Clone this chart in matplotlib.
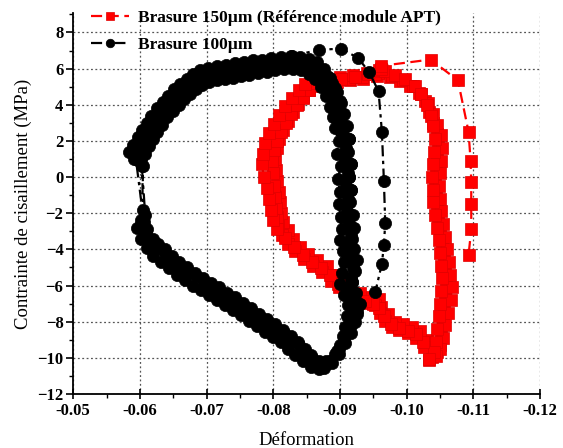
import matplotlib
matplotlib.use("Agg")
import matplotlib.pyplot as plt
from matplotlib.ticker import MultipleLocator, FormatStrFormatter

plt.rcParams['font.family'] = ['Liberation Serif', 'DejaVu Serif']
plt.rcParams['font.weight'] = 'bold'

# ---------------- data: Brasure 100 µm (black) ----------------
b100_x = [
    # cycle 1 (inner)
    -0.0885, -0.0893, -0.0900, -0.0905, -0.0908, -0.0910, -0.0912, -0.0906, -0.0900, -0.0903,
    -0.0906, -0.0904, -0.0900, -0.0903, -0.0901, -0.0898, -0.0900, -0.0897, -0.0901, -0.0895,
    -0.0898, -0.0892, -0.0890, -0.0885, -0.0879, -0.0871, -0.0863, -0.0853,
    -0.0841, -0.0829, -0.0816, -0.0803, -0.0790, -0.0777, -0.0764, -0.0752, -0.0740, -0.0728,
    -0.0715, -0.0703, -0.0693, -0.0684, -0.0675, -0.0666, -0.0658, -0.0649, -0.0641, -0.0633,
    -0.0626, -0.0620, -0.0614, -0.0608, -0.0602, -0.0598, -0.0604,
    -0.0604, -0.0602, -0.0610, -0.0619, -0.0627, -0.0637, -0.0648, -0.0659, -0.0671, -0.0683,
    -0.0695, -0.0707, -0.0719, -0.0731, -0.0743, -0.0755, -0.0767, -0.0779, -0.0791, -0.0803,
    -0.0815, -0.0826, -0.0837, -0.0847, -0.0857, -0.0868, -0.0879,
    # cycle 2
    -0.0872, -0.0888, -0.0898, -0.0908, -0.0916, -0.0922, -0.0925, -0.0920, -0.0914, -0.0916,
    -0.0920, -0.0917, -0.0913, -0.0916, -0.0914, -0.0910, -0.0912, -0.0909, -0.0912, -0.0907,
    -0.0909, -0.0904, -0.0902, -0.0898, -0.0892, -0.0884, -0.0876, -0.0866, -0.0852,
    -0.0838, -0.0825, -0.0811, -0.0798, -0.0784, -0.0771, -0.0758, -0.0746, -0.0733, -0.0720,
    -0.0707, -0.0695, -0.0685, -0.0675, -0.0666, -0.0657, -0.0648, -0.0640, -0.0631, -0.0624,
    -0.0617, -0.0610, -0.0604, -0.0597, -0.0591, -0.0603,
    -0.0608, -0.0601, -0.0609, -0.0618, -0.0627, -0.0637, -0.0648, -0.0660, -0.0672, -0.0684,
    -0.0696, -0.0708, -0.0720, -0.0732, -0.0744, -0.0756, -0.0768, -0.0780, -0.0792, -0.0804,
    -0.0816, -0.0827, -0.0838, -0.0848, -0.0858, -0.0868,
    # cycle 3 (outer)
    -0.0876, -0.0886, -0.0899, -0.0908, -0.0917, -0.0926, -0.0930, -0.0923, -0.0918, -0.0921,
    -0.0923, -0.0920, -0.0917, -0.0919, -0.0916, -0.0914, -0.0916, -0.0913, -0.0916, -0.0911,
    -0.0913, -0.0908, -0.0905, -0.0900, -0.0893, -0.0885, -0.0876, -0.0866, -0.0853,
    -0.0840, -0.0826, -0.0812, -0.0797, -0.0783, -0.0769, -0.0756, -0.0742, -0.0729, -0.0715,
    -0.0702, -0.0690, -0.0680, -0.0670, -0.0660, -0.0651, -0.0642, -0.0634, -0.0625, -0.0617,
    -0.0610, -0.0603, -0.0597, -0.0590, -0.0584, -0.0594,
    -0.0606, -0.0596, -0.0602, -0.0610, -0.0620, -0.0631, -0.0643, -0.0655, -0.0667, -0.0679,
    -0.0691, -0.0703, -0.0715, -0.0727, -0.0739, -0.0751, -0.0763, -0.0775, -0.0787, -0.0799,
    -0.0811, -0.0822, -0.0833, -0.0844, -0.0856, -0.0868,
    # cycle 4 (up the right side)
    -0.0882, -0.0896, -0.0906, -0.0915, -0.0922, -0.0928, -0.0924, -0.0918, -0.0922, -0.0925,
    -0.0921, -0.0918, -0.0921, -0.0919, -0.0915, -0.0917, -0.0914, -0.0917, -0.0912, -0.0914,
    -0.0910, -0.0906, -0.0901, -0.0895, -0.0888, -0.0880, -0.0872, -0.0860, -0.0848, -0.0835,
    # outer sparse branch
    -0.0828, -0.0869, -0.0901, -0.0927, -0.0944, -0.0958, -0.0963, -0.0966, -0.0968, -0.0966,
    -0.0963, -0.0953,
]
b100_y = [
    # cycle 1 (inner)
    -10.2, -9.8, -9.3, -8.8, -8.3, -7.7, -7.1, -6.5, -5.9, -5.3,
    -4.7, -4.1, -3.5, -2.9, -2.2, -1.5, -0.8, -0.1, 0.6, 1.3,
    2.0, 2.7, 3.3, 3.9, 4.5, 5.0, 5.4, 5.7,
    5.9, 6.0, 5.95, 5.9, 5.8, 5.75, 5.65, 5.6, 5.5, 5.45,
    5.35, 5.25, 5.1, 4.85, 4.6, 4.3, 4.0, 3.65, 3.3, 2.9,
    2.5, 2.1, 1.7, 1.3, 1.0, 0.9, 0.6,
    -1.8, -2.4, -2.9, -3.4, -3.7, -4.0, -4.35, -4.7, -5.0, -5.3,
    -5.6, -5.85, -6.1, -6.4, -6.65, -6.95, -7.25, -7.55, -7.85, -8.15,
    -8.45, -8.8, -9.15, -9.5, -9.85, -10.15, -10.2,
    # cycle 2
    -10.5, -10.3, -9.8, -9.2, -8.6, -8.0, -7.4, -6.8, -6.2, -5.6,
    -5.0, -4.4, -3.8, -3.2, -2.6, -1.9, -1.2, -0.5, 0.2, 0.9,
    1.6, 2.3, 3.0, 3.7, 4.3, 4.9, 5.4, 5.8, 6.1,
    6.3, 6.35, 6.3, 6.25, 6.15, 6.1, 6.0, 5.95, 5.85, 5.8,
    5.7, 5.5, 5.3, 5.05, 4.75, 4.45, 4.1, 3.75, 3.4, 3.0,
    2.6, 2.2, 1.8, 1.4, 1.0, 0.6,
    -2.1, -2.6, -3.0, -3.5, -3.9, -4.2, -4.55, -4.9, -5.2, -5.5,
    -5.8, -6.05, -6.3, -6.6, -6.85, -7.15, -7.45, -7.75, -8.05, -8.35,
    -8.65, -8.95, -9.3, -9.65, -10.0, -10.3,
    # cycle 3 (outer)
    -10.55, -10.2, -9.5, -8.8, -8.2, -7.6, -7.0, -6.4, -5.8, -5.2,
    -4.6, -4.0, -3.4, -2.8, -2.1, -1.4, -0.7, 0.0, 0.7, 1.4,
    2.1, 2.8, 3.5, 4.2, 4.9, 5.5, 6.0, 6.35, 6.55,
    6.65, 6.7, 6.65, 6.6, 6.5, 6.45, 6.35, 6.3, 6.2, 6.15,
    6.05, 5.9, 5.7, 5.45, 5.15, 4.85, 4.5, 4.15, 3.8, 3.4,
    3.0, 2.6, 2.2, 1.8, 1.4, 1.0,
    -2.5, -2.8, -3.4, -3.9, -4.35, -4.7, -5.05, -5.4, -5.7, -6.0,
    -6.25, -6.5, -6.8, -7.05, -7.35, -7.65, -7.95, -8.25, -8.55, -8.85,
    -9.15, -9.5, -9.85, -10.2, -10.5, -10.6,
    # cycle 4
    -10.3, -9.6, -8.9, -8.2, -7.6, -7.0, -6.4, -5.8, -5.2, -4.6,
    -4.0, -3.4, -2.8, -2.1, -1.4, -0.7, 0.0, 0.7, 1.4, 2.1,
    2.8, 3.5, 4.1, 4.7, 5.2, 5.6, 5.9, 6.2, 6.4, 6.45,
    # outer sparse branch
    6.7, 7.04, 7.1, 6.6, 5.8, 4.74, 2.5, -0.2, -2.55, -3.75,
    -4.8, -6.37,
]

# ---------------- data: Brasure 150 µm (red) ----------------
b150_x = [
    # cycle 1 (inner)
    -0.0858, -0.0875, -0.0896, -0.0915, -0.0935, -0.0955, -0.0965, -0.0975, -0.0990, -0.1005,
    -0.1018, -0.1027, -0.1033, -0.1040, -0.1045, -0.1047, -0.1046, -0.1044, -0.1043, -0.1044,
    -0.1045, -0.1047, -0.1050, -0.1053, -0.1056, -0.1058, -0.1059, -0.1058, -0.1056, -0.1054,
    -0.1052, -0.1050, -0.1046, -0.1038,
    -0.1030, -0.1020, -0.1008, -0.0995, -0.0982, -0.0972, -0.0962, -0.0958, -0.0945, -0.0930,
    -0.0915, -0.0903, -0.0892, -0.0880, -0.0866, -0.0852, -0.0840, -0.0830, -0.0822, -0.0815,
    -0.0812, -0.0810, -0.0808, -0.0806, -0.0804, -0.0803, -0.0805, -0.0809, -0.0815, -0.0822,
    -0.0829, -0.0837, -0.0845, -0.0853,
    # cycle 2 (outer right)
    -0.0855, -0.0872, -0.0893, -0.0913, -0.0933, -0.0952, -0.0962, -0.0978, -0.0994, -0.1009,
    -0.1022, -0.1032, -0.1039, -0.1046, -0.1051, -0.1053, -0.1052, -0.1050, -0.1049, -0.1050,
    -0.1052, -0.1054, -0.1057, -0.1060, -0.1063, -0.1065, -0.1068, -0.1066, -0.1062, -0.1058,
    -0.1054, -0.1050, -0.1044, -0.1034,
    -0.1026, -0.1014, -0.1002, -0.0989, -0.0978, -0.0968, -0.0960, -0.0952, -0.0938, -0.0923,
    -0.0910, -0.0898, -0.0886, -0.0873, -0.0860, -0.0846, -0.0833, -0.0822, -0.0813, -0.0807,
    -0.0805, -0.0804, -0.0803, -0.0801, -0.0799, -0.0798, -0.0801, -0.0806, -0.0812, -0.0819,
    -0.0827, -0.0836, -0.0845, -0.0853,
    # cycle 3 (outer left)
    -0.0862, -0.0880, -0.0900, -0.0920, -0.0940, -0.0958, -0.0968, -0.0982, -0.0998, -0.1012,
    -0.1022, -0.1030, -0.1036, -0.1040, -0.1042, -0.1041, -0.1039, -0.1038, -0.1039, -0.1040,
    -0.1042, -0.1045, -0.1048, -0.1050, -0.1052, -0.1053, -0.1052, -0.1050, -0.1048, -0.1046,
    -0.1044, -0.1041, -0.1033,
    -0.1024, -0.1014, -0.1002, -0.0989, -0.0976, -0.0966, -0.0959, -0.0950, -0.0937, -0.0922,
    -0.0908, -0.0897, -0.0885, -0.0872, -0.0858, -0.0844, -0.0831, -0.0818, -0.0806, -0.0800,
    -0.0797, -0.0794, -0.0790, -0.0786, -0.0783, -0.0784, -0.0788, -0.0794, -0.0801, -0.0809,
    -0.0818, -0.0828, -0.0838, -0.0848,
    # cycle 4 (top only)
    -0.0865, -0.0882, -0.0902, -0.0922, -0.0942, -0.0961,
    # outer sparse branch
    -0.0962, -0.1036, -0.1077, -0.1093, -0.1096, -0.1097, -0.1097, -0.1097, -0.1093,
]
b150_y = [
    # cycle 1
    5.05, 5.15, 5.25, 5.35, 5.45, 5.6, 5.75, 5.55, 5.3, 5.05,
    4.65, 4.2, 3.6, 3.0, 2.4, 1.8, 1.1, 0.4, -0.3, -1.0,
    -1.7, -2.4, -3.1, -3.8, -4.5, -5.2, -5.9, -6.6, -7.3, -8.0,
    -8.7, -9.3, -9.7, -9.95,
    -9.0, -8.5, -8.3, -8.15, -8.0, -7.6, -7.2, -6.75, -6.65, -6.4,
    -6.1, -5.8, -5.4, -4.9, -4.6, -4.25, -3.85, -3.4, -2.95, -2.5,
    -2.0, -1.4, -0.8, -0.2, 0.4, 1.0, 1.6, 2.1, 2.6, 3.1,
    3.6, 4.05, 4.45, 4.8,
    # cycle 2
    5.1, 5.25, 5.35, 5.45, 5.55, 5.7, 5.85, 5.6, 5.35, 5.05,
    4.6, 4.1, 3.5, 2.9, 2.3, 1.6, 0.9, 0.2, -0.5, -1.2,
    -1.9, -2.6, -3.3, -4.0, -4.7, -5.4, -6.1, -6.8, -7.5, -8.2,
    -8.9, -9.5, -9.9, -10.1,
    -9.4, -8.9, -8.65, -8.45, -8.3, -7.95, -7.5, -7.05, -6.95, -6.7,
    -6.45, -6.1, -5.75, -5.25, -4.9, -4.55, -4.1, -3.7, -3.2, -2.7,
    -2.2, -1.7, -1.1, -0.5, 0.2, 0.9, 1.5, 2.0, 2.5, 3.0,
    3.5, 4.0, 4.4, 4.8,
    # cycle 3
    5.3, 5.45, 5.55, 5.65, 5.75, 5.9, 5.85, 5.65, 5.4, 5.05,
    4.6, 4.0, 3.4, 2.8, 2.1, 1.4, 0.7, 0.0, -0.7, -1.4,
    -2.1, -2.8, -3.5, -4.2, -4.9, -5.6, -6.3, -7.0, -7.7, -8.4,
    -9.1, -9.7, -10.05,
    -9.1, -8.7, -8.5, -8.35, -8.1, -7.7, -7.25, -7.0, -6.85, -6.55,
    -6.25, -5.9, -5.4, -5.05, -4.7, -4.3, -3.85, -3.35, -2.85, -2.35,
    -1.8, -1.2, -0.6, 0.0, 0.7, 1.3, 1.9, 2.45, 2.95, 3.45,
    3.95, 4.4, 4.8, 5.15,
    # cycle 4
    5.2, 5.35, 5.45, 5.55, 5.7, 5.95,
    # outer sparse branch
    6.15, 6.5, 5.35, 2.5, 0.9, -0.3, -1.5, -2.9, -4.3,
]

labels = ["Brasure 150µm (Référence module APT)", "Brasure 100µm"]
xticks = [-0.05, -0.06, -0.07, -0.08, -0.09, -0.10, -0.11, -0.12]
yticks = [-12, -10, -8, -6, -4, -2, 0, 2, 4, 6, 8]

fig = plt.figure(figsize=(5.63, 4.48), dpi=100)
ax = fig.add_axes([0.130, 0.1205, 0.829, 0.8495])

l1, = ax.plot(b150_x, b150_y, color='#ff0000', linestyle=(0, (5, 2.5)), linewidth=1.6,
              marker='s', markersize=9, markeredgewidth=0.5, markeredgecolor='#e00000',
              label=labels[0], zorder=3)
l2, = ax.plot(b100_x, b100_y, color='black', linestyle=(0, (5, 2, 1.5, 2)), linewidth=1.6,
              marker='o', markersize=8.8, markeredgewidth=0.5,
              label=labels[1], zorder=4)

ax.set_xlim(-0.05, -0.12)
ax.set_ylim(-12, 9.05)
ax.set_xticks(xticks)
ax.set_yticks(yticks)
ax.xaxis.set_major_formatter(FormatStrFormatter('%.2f'))
ax.xaxis.set_minor_locator(MultipleLocator(0.005))
ax.yaxis.set_minor_locator(MultipleLocator(1))

for s in ['top', 'right']:
    ax.spines[s].set_visible(False)
for s in ['left', 'bottom']:
    ax.spines[s].set_linewidth(1.3)

ax.tick_params(axis='x', which='major', direction='inout', length=7, width=1.2, labelsize=12, pad=3)
ax.tick_params(axis='x', which='minor', direction='out', length=3, width=1.0)
ax.tick_params(axis='y', which='major', direction='out', length=5, width=1.2, labelsize=12, pad=2)
ax.tick_params(axis='y', which='minor', direction='out', length=3, width=1.0)
for lab in ax.get_xticklabels() + ax.get_yticklabels():
    lab.set_fontweight('bold')

ax.grid(True, which='major', linestyle=(0, (1.5, 2)), color='#555555', linewidth=0.9)

ax.set_xlabel("Déformation", fontsize=13.5, fontweight='normal', labelpad=9)
ax.set_ylabel("Contrainte de cisaillement (MPa)", fontsize=13.5, fontweight='normal', labelpad=4)

leg = fig.legend(handles=[l1, l2], loc='upper left', bbox_to_anchor=(0.14, 1.005),
                 frameon=False, fontsize=12.5, handlelength=2.2, handletextpad=0.5,
                 labelspacing=0.6, borderpad=0.2, markerscale=0.7)
for t in leg.get_texts():
    t.set_fontweight('bold')

fig.savefig("out.png", dpi=100)
